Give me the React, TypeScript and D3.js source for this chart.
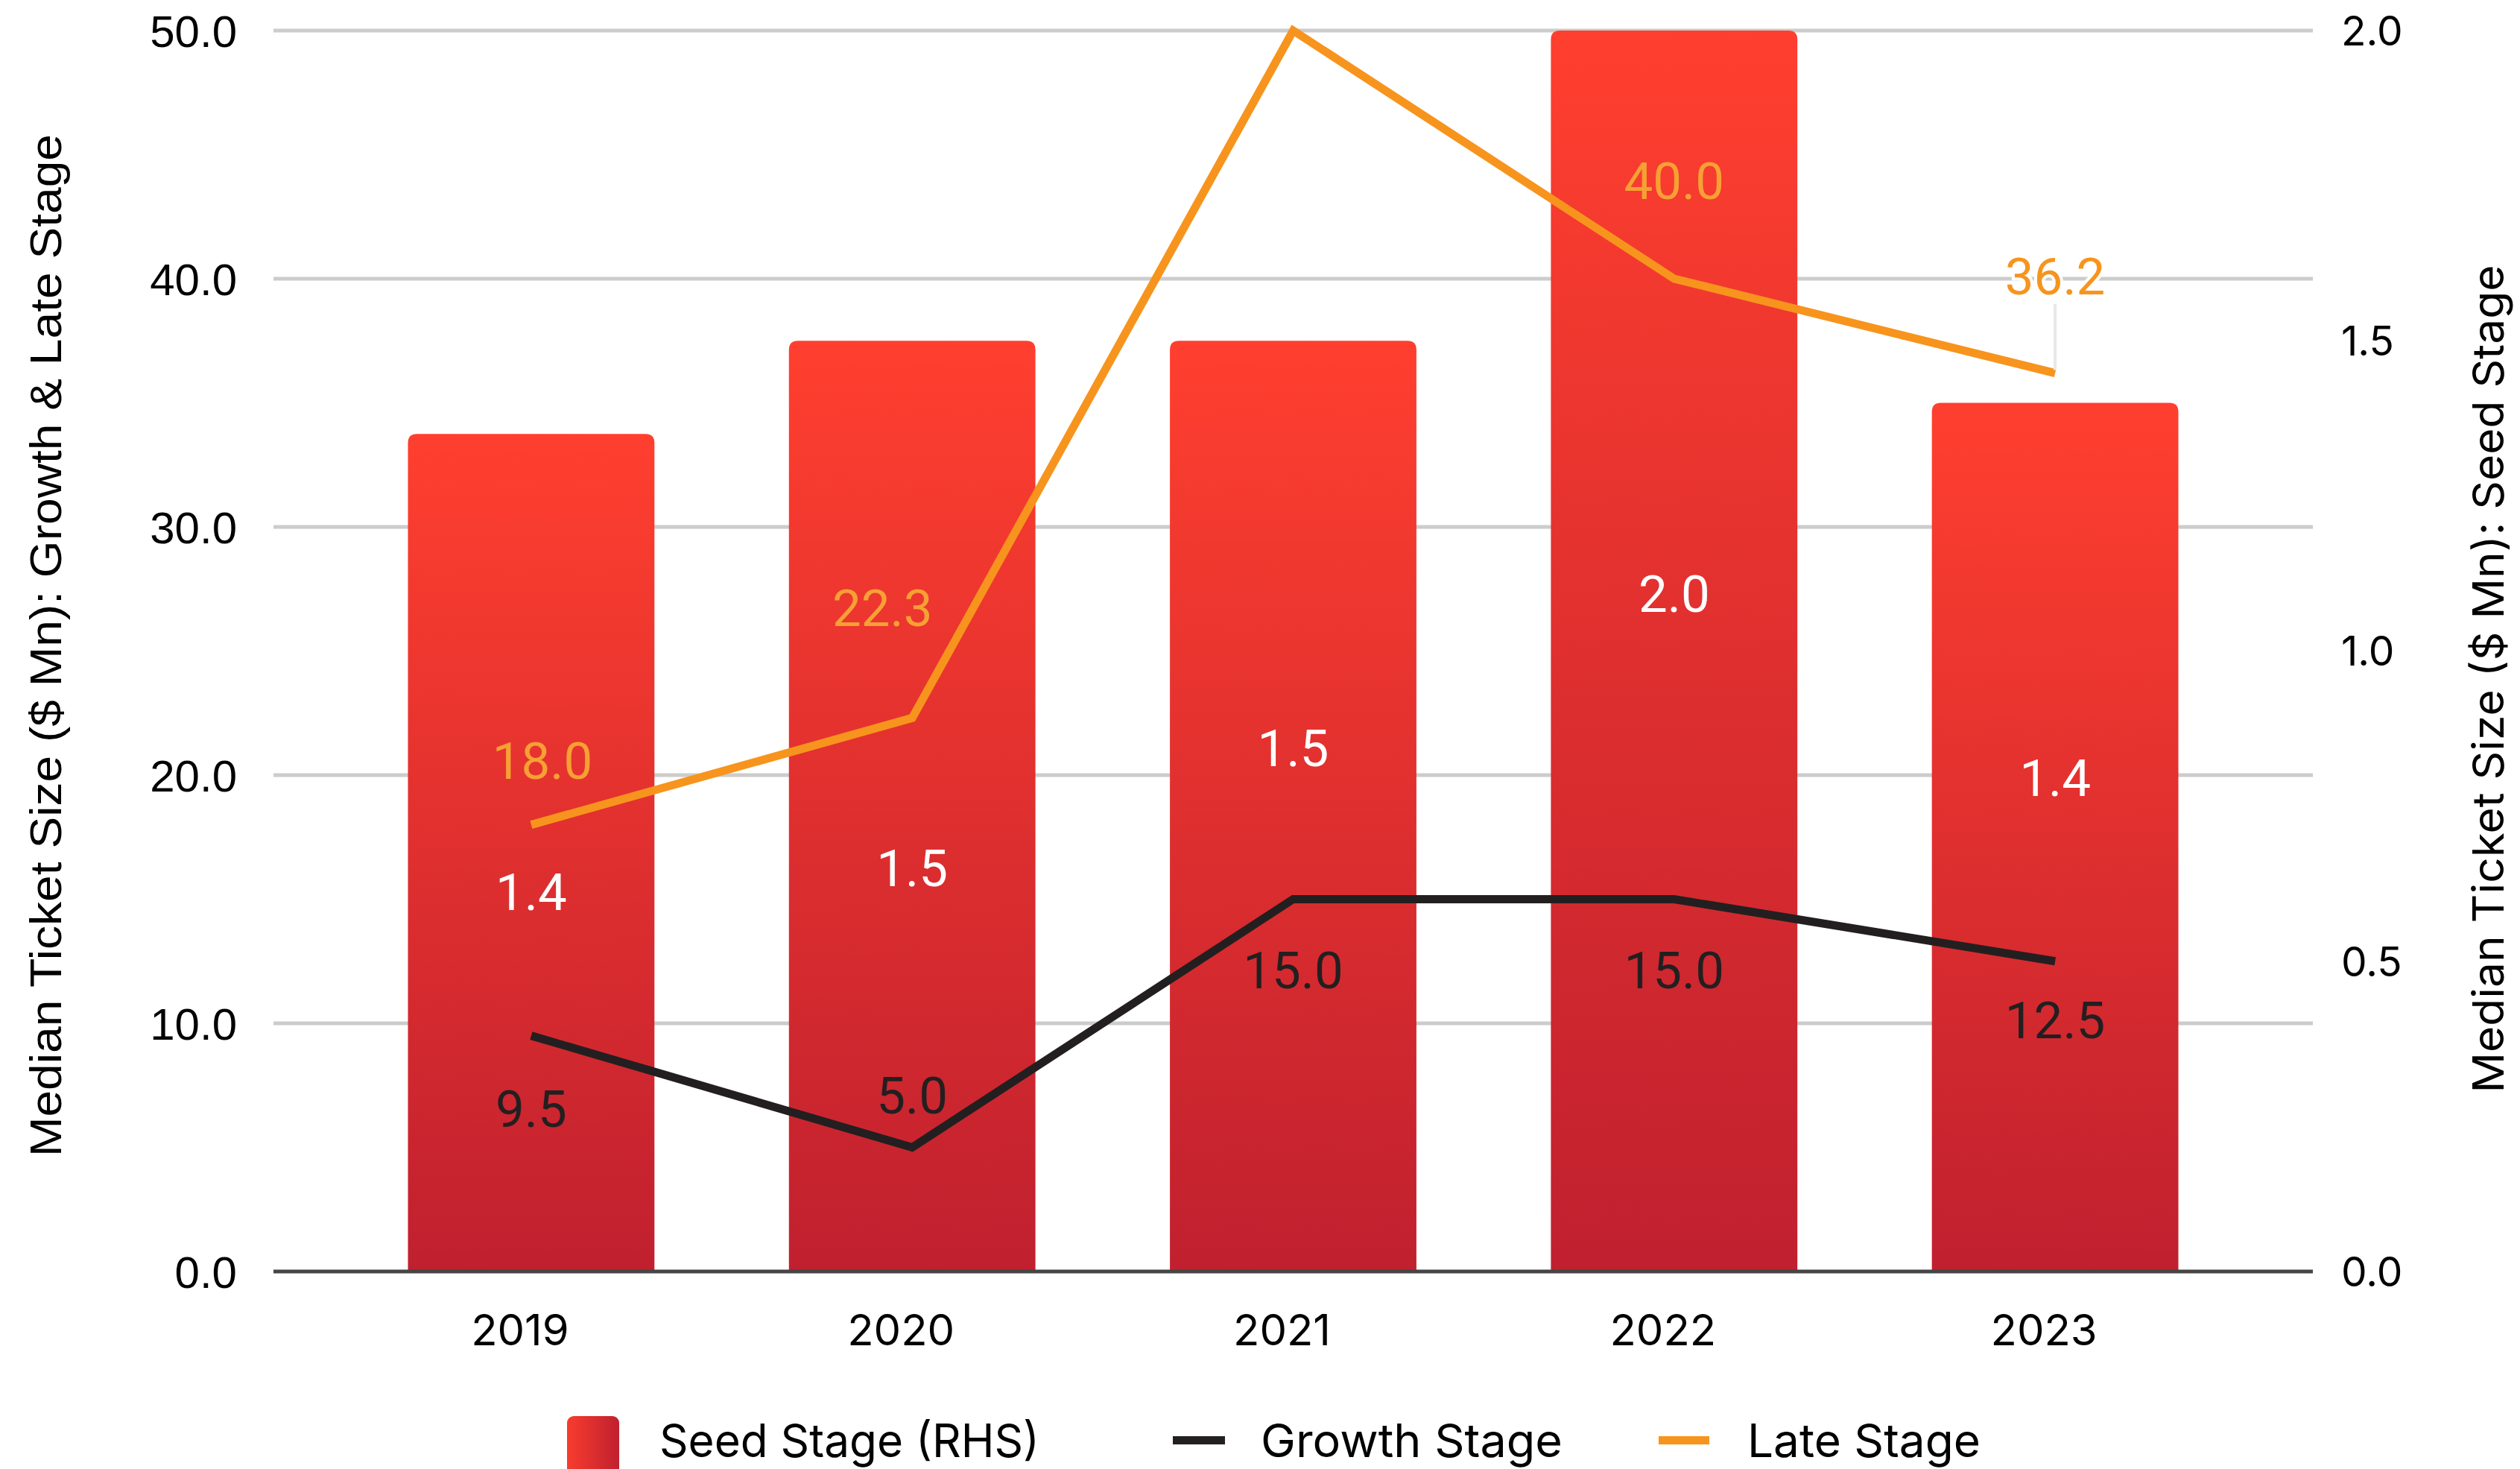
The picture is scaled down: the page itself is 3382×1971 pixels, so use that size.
import React from "react";
import * as d3 from "d3";

// ---------- data ----------
const years = ["2019", "2020", "2021", "2022", "2023"];
const seedStage = [1.35, 1.5, 1.5, 2.0, 1.4]; // RHS
const growthStage = [9.5, 5.0, 15.0, 15.0, 12.5];
const lateStage = [18.0, 22.3, 50.0, 40.0, 36.2];
const leftTicks = [0, 10, 20, 30, 40, 50];
const rightTicks = [0, 0.5, 1.0, 1.5, 2.0];
const legendItems = ["Seed Stage (RHS)", "Growth Stage", "Late Stage"];

// ---------- label layout (left-axis units; not data) ----------
const seedLabelAt = [15.3, 16.25, 21.1, 27.3, 19.9];
const growthLabelAt = [6.55, 7.1, 12.15, 12.15, 10.15];
const lateLabelAt: (number | null)[] = [20.6, 26.75, null, 43.95, 40.1];
const lateLabelDx = [15, -40, 0, 0, 0];
const lateCallout = [false, false, false, false, true];

const W = 3382;
const H = 1971;
const M = { left: 367, right: 3104, top: 41, bottom: 1706 };

const RED_TOP = "#FF3F2F";
const RED_BOTTOM = "#C0202F";
const GROWTH = "#231F20";
const LATE = "#F7941D";
const LATE_LABEL = "#F7A034";

const fmt = d3.format(".1f");

function topRoundedRect(x: number, y: number, w: number, h: number, r: number) {
  const rr = Math.min(r, h, w / 2);
  return `M${x},${y + h}V${y + rr}Q${x},${y} ${x + rr},${y}H${x + w - rr}Q${x + w},${y} ${x + w},${y + rr}V${y + h}Z`;
}

export default function App() {
  const x = d3.scaleBand<string>().domain(years).range([M.left, M.right]).padding(0.353);
  const yL = d3.scaleLinear().domain([0, 50]).range([M.bottom, M.top]);
  const yR = d3.scaleLinear().domain([0, 2]).range([M.bottom, M.top]);
  const bw = x.bandwidth();
  const cx = (i: number) => (x(years[i]) as number) + bw / 2;

  const line = d3
    .line<number>()
    .x((_, i) => cx(i))
    .y((d) => yL(d));

  const arialFont = "'Liberation Sans', Arial, sans-serif";
  const interFont = "Inter, 'Noto Sans', sans-serif";
  const robotoFont = "Roboto, 'Noto Sans', sans-serif";
  const legendBaseline = 1955;

  return (
    <svg
      width={W}
      height={H}
      viewBox={`0 0 ${W} ${H}`}
      style={{ position: "absolute", left: 0, top: 0, display: "block", background: "#fff" }}
    >
      <defs>
        <linearGradient id="barGrad" x1="0" y1="0" x2="0" y2="1">
          <stop offset="0%" stopColor={RED_TOP} />
          <stop offset="100%" stopColor={RED_BOTTOM} />
        </linearGradient>
        <linearGradient id="legGrad" x1="0" y1="0" x2="1" y2="0">
          <stop offset="0%" stopColor="#F83C2E" />
          <stop offset="100%" stopColor={RED_BOTTOM} />
        </linearGradient>
      </defs>
      <rect x={0} y={0} width={W} height={H} fill="#fff" />

      {/* gridlines */}
      {leftTicks
        .filter((t) => t !== 0)
        .map((t) => (
          <line key={t} x1={M.left} x2={M.right} y1={yL(t)} y2={yL(t)} stroke="#CCCCCC" strokeWidth={5} />
        ))}

      {/* left tick labels */}
      {leftTicks.map((t) => (
        <text
          key={"l" + t}
          x={318}
          y={yL(t)}
          dy="0.36em"
          textAnchor="end"
          fontFamily={arialFont}
          fontSize={60}
          fill="#000"
        >
          {fmt(t)}
        </text>
      ))}

      {/* right tick labels */}
      {rightTicks.map((t) => (
        <text
          key={"r" + t}
          x={3142}
          y={yR(t)}
          dy="0.36em"
          textAnchor="start"
          fontFamily={interFont}
          fontSize={55}
          fill="#000"
        >
          {fmt(t)}
        </text>
      ))}

      {/* bars */}
      {seedStage.map((v, i) => {
        const bx = x(years[i]) as number;
        const by = yR(v);
        return (
          <path key={"b" + i} d={topRoundedRect(bx, by, bw, M.bottom - by, 12)} fill="url(#barGrad)" />
        );
      })}

      {/* baseline */}
      <line x1={M.left} x2={M.right} y1={M.bottom} y2={M.bottom} stroke="#454545" strokeWidth={5} />

      {/* lines */}
      <path d={line(growthStage) || ""} fill="none" stroke={GROWTH} strokeWidth={11} strokeLinejoin="miter" />
      <path d={line(lateStage) || ""} fill="none" stroke={LATE} strokeWidth={11} strokeLinejoin="miter" />

      {/* seed labels */}
      {seedStage.map((v, i) => (
        <text
          key={"sl" + i}
          x={cx(i)}
          y={yL(seedLabelAt[i])}
          dy="0.355em"
          textAnchor="middle"
          fontFamily={robotoFont}
          fontSize={69}
          fill="#fff"
        >
          {fmt(v)}
        </text>
      ))}

      {/* growth labels */}
      {growthStage.map((v, i) => (
        <text
          key={"gl" + i}
          x={cx(i)}
          y={yL(growthLabelAt[i])}
          dy="0.355em"
          textAnchor="middle"
          fontFamily={robotoFont}
          fontSize={69}
          fill={GROWTH}
        >
          {fmt(v)}
        </text>
      ))}

      {/* late labels */}
      {lateStage.map((v, i) => {
        const at = lateLabelAt[i];
        if (at === null) return null;
        const ly = yL(at);
        return (
          <g key={"ll" + i}>
            {lateCallout[i] && (
              <line x1={cx(i)} x2={cx(i)} y1={ly + 37} y2={yL(v) - 4} stroke="#E8E8E8" strokeWidth={4} />
            )}
            <text
              x={cx(i) + lateLabelDx[i]}
              y={ly}
              dy="0.355em"
              textAnchor="middle"
              fontFamily={robotoFont}
              fontSize={69}
              fill={lateCallout[i] ? LATE : LATE_LABEL}
              stroke={lateCallout[i] ? "#fff" : "none"}
              strokeWidth={lateCallout[i] ? 8 : 0}
              style={{ paintOrder: "stroke" }}
            >
              {fmt(v)}
            </text>
          </g>
        );
      })}

      {/* x labels */}
      {years.map((yr, i) => (
        <text
          key={"x" + yr}
          x={cx(i) - 15}
          y={1805}
          textAnchor="middle"
          fontFamily={interFont}
          fontSize={58}
          fill="#000"
        >
          {yr}
        </text>
      ))}

      {/* axis titles */}
      <text
        transform={`translate(82,${866}) rotate(-90)`}
        textAnchor="middle"
        fontFamily={arialFont}
        fontSize={60}
        fill="#000"
        textLength={1372}
        lengthAdjust="spacingAndGlyphs"
      >
        Median Ticket Size ($ Mn): Growth &amp; Late Stage
      </text>
      <text
        transform={`translate(3360,${911}) rotate(-90)`}
        textAnchor="middle"
        fontFamily={interFont}
        fontSize={58}
        fill="#000"
        textLength={1111}
        lengthAdjust="spacingAndGlyphs"
      >
        Median Ticket Size ($ Mn): Seed Stage
      </text>

      {/* legend */}
      <rect x={761} y={1900} width={70} height={80} rx={9} fill="url(#legGrad)" />
      <text x={885} y={legendBaseline} fontFamily={interFont} fontSize={62} fill="#000" textLength={510} lengthAdjust="spacingAndGlyphs">
        {legendItems[0]}
      </text>
      <rect x={1574} y={1927} width={70} height={11} fill={GROWTH} />
      <text x={1692} y={legendBaseline} fontFamily={interFont} fontSize={62} fill="#000" textLength={405} lengthAdjust="spacingAndGlyphs">
        {legendItems[1]}
      </text>
      <rect x={2226} y={1927} width={68} height={11} fill={LATE} />
      <text x={2345} y={legendBaseline} fontFamily={interFont} fontSize={62} fill="#000" textLength={313} lengthAdjust="spacingAndGlyphs">
        {legendItems[2]}
      </text>
    </svg>
  );
}
